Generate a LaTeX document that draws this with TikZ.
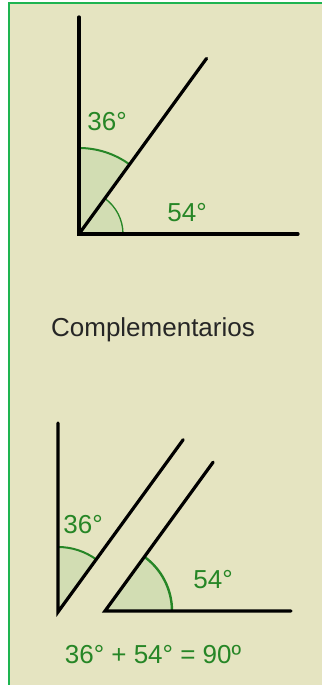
\documentclass[tikz,border=0pt]{standalone}
\usepackage{fontspec}
\setmainfont{Liberation Sans}
\usepackage{tikz}
\usetikzlibrary{calc}
\definecolor{paper}{RGB}{229,228,193}
\definecolor{frame}{RGB}{30,180,80}
\definecolor{wedge}{RGB}{210,221,179}
\definecolor{anggreen}{RGB}{38,134,38}

\begin{document}
\begin{tikzpicture}[
  x=0.75pt, y=0.75pt,
  font=\fontsize{19.5}{23}\selectfont,
  leg/.style={line width=2.4pt, black, line cap=round, line join=miter},
  wfill/.style={fill=wedge},
  warc/.style={draw=anggreen, line width=1.5pt},
  lbl/.style={anggreen, inner sep=0pt},
  ttl/.style={black!85, inner sep=0pt}
]
\useasboundingbox (0,0) rectangle (322,685);

% page and frame
\fill[white] (0,0) rectangle (322,685);
\fill[paper] (8,0) rectangle (322,683);
\draw[frame, line width=1.9pt] (9.2,0) -- (9.2,681.8) -- (322,681.8);

% top figure: one angle split in two
\coordinate (o1) at (79,451);
\coordinate (v1) at (79,668);
\coordinate (h1) at (298,451);
\coordinate (d1) at ($(o1)+(54:217)$);
\fill[wfill] (o1) -- ($(o1)+(54:86)$) arc[start angle=54, end angle=90, radius=86] -- cycle;
\fill[wfill] (o1) -- ($(o1)+(0:44)$) arc[start angle=0, end angle=54, radius=44] -- cycle;
\draw[warc] ($(o1)+(54:86)$) arc[start angle=54, end angle=90, radius=86];
\draw[warc, line width=1pt] ($(o1)+(0:44)$) arc[start angle=0, end angle=54, radius=44];
\draw[leg] (v1) -- (o1) -- (h1);
\draw[leg] (o1) -- (d1);
\node[lbl] (t36) at (107,563) {36°};
\node[lbl] (t54) at (187,472) {54°};

\node[ttl] (comp) at (153,355) {Complementarios};

% bottom figure: the two angles apart
\coordinate (o2) at (58,73);
\coordinate (v2) at (58,262);
\coordinate (d2) at ($(o2)+(54:213)$);
\coordinate (o3) at (105,74);
\coordinate (h3) at (291,74);
\coordinate (d3) at ($(o3)+(54:184)$);
\fill[wfill] (o2) -- ($(o2)+(54:65)$) arc[start angle=54, end angle=90, radius=65] -- cycle;
\fill[wfill] (o3) -- ($(o3)+(0:67)$) arc[start angle=0, end angle=54, radius=67] -- cycle;
\draw[warc] ($(o2)+(54:65)$) arc[start angle=54, end angle=90, radius=65];
\draw[warc, line width=1.8pt] ($(o3)+(0:67)$) arc[start angle=0, end angle=54, radius=67];
\draw[leg] (v2) -- (o2) -- (d2);
\draw[leg] (d3) -- (o3) -- (h3);
\node[lbl] (b36) at (83,160) {36°};
\node[lbl] (b54) at (213,105) {54°};

\node[lbl] (sum) at (153,30) {36° + 54° = 90º};
\end{tikzpicture}
\end{document}
